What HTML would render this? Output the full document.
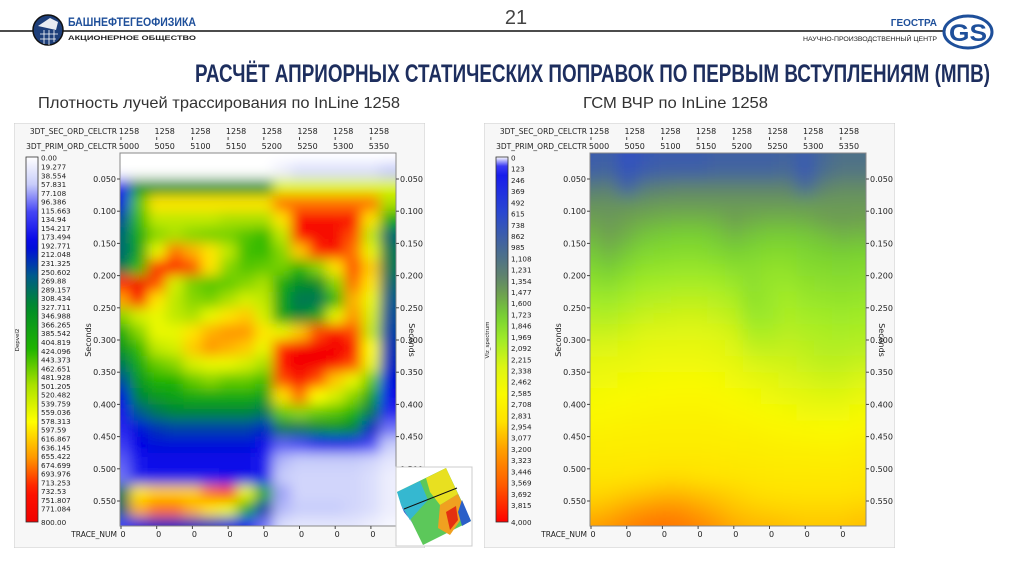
<!DOCTYPE html>
<html><head><meta charset="utf-8">
<style>
html,body{margin:0;padding:0;background:#fff;}
svg{display:block;}
.t{font-family:"DejaVu Sans","Liberation Sans",sans-serif;fill:#222;}
</style></head>
<body>
<svg id="s" xmlns="http://www.w3.org/2000/svg" width="1024" height="574" viewBox="0 0 1024 574">
<defs>
  <filter id="blurL" x="-10%" y="-10%" width="120%" height="120%"><feGaussianBlur stdDeviation="6.5"/></filter>
  <filter id="blurR" x="-10%" y="-10%" width="120%" height="120%"><feGaussianBlur stdDeviation="8"/></filter>
  <clipPath id="clipL"><rect x="120" y="153" width="276" height="373"/></clipPath>
  <clipPath id="clipR"><rect x="590" y="153" width="276" height="373"/></clipPath>
  <clipPath id="panelL"><rect x="14" y="123" width="411" height="425"/></clipPath>
  <clipPath id="panelR"><rect x="484" y="123" width="411" height="425"/></clipPath>
  <linearGradient id="gradL" x1="0" y1="0" x2="0" y2="1"></linearGradient>
  <linearGradient id="gradR" x1="0" y1="0" x2="0" y2="1"></linearGradient>
</defs>

<g>
  <line x1="0" y1="31" x2="948" y2="31" stroke="#111" stroke-width="1.6"/>
  <g>
    <circle cx="48" cy="30" r="15" fill="#1e3f7a" stroke="#111" stroke-width="1.5"/>
    <path d="M38 26 L50 18 L58 22 L56 30 Z" fill="#fff" opacity="0.9"/>
    <path d="M40 34 H58 M40 39 H56 M44 30 V44 M49 30 V45 M54 30 V42" stroke="#fff" stroke-width="0.8"/>
  </g>
  <text x="68" y="26" font-family="Liberation Sans Narrow,Liberation Sans,sans-serif" font-weight="bold" font-size="12" fill="#1e4f9a" textLength="128" lengthAdjust="spacingAndGlyphs">БАШНЕФТЕГЕОФИЗИКА</text>
  <text x="68" y="40" font-family="Liberation Sans,sans-serif" font-weight="bold" font-size="6.5" fill="#222" textLength="128" lengthAdjust="spacingAndGlyphs">АКЦИОНЕРНОЕ ОБЩЕСТВО</text>
  <text x="516" y="24" text-anchor="middle" font-family="Liberation Sans Narrow,Liberation Sans,sans-serif" font-size="20" fill="#444">21</text>
  <text x="937" y="26" text-anchor="end" font-family="Liberation Sans Narrow,Liberation Sans,sans-serif" font-weight="bold" font-size="10" fill="#1e4f9a">ГЕОСТРА</text>
  <text x="937" y="41" text-anchor="end" font-family="Liberation Sans,sans-serif" font-size="6" fill="#222" textLength="134" lengthAdjust="spacingAndGlyphs">НАУЧНО-ПРОИЗВОДСТВЕННЫЙ ЦЕНТР</text>
  <g>
    <ellipse cx="968" cy="32" rx="24" ry="16" fill="#fff" stroke="#1e4f9a" stroke-width="3"/>
    <text x="968" y="41" text-anchor="middle" font-family="Liberation Sans,sans-serif" font-weight="bold" font-size="24" fill="#1e4f9a" textLength="38" lengthAdjust="spacingAndGlyphs">GS</text>
  </g>
  <text x="195" y="82" font-family="Liberation Sans Narrow,Liberation Sans,sans-serif" font-weight="bold" font-size="25" fill="#1d2e5e" textLength="795" lengthAdjust="spacingAndGlyphs">РАСЧЁТ АПРИОРНЫХ СТАТИЧЕСКИХ ПОПРАВОК ПО ПЕРВЫМ ВСТУПЛЕНИЯМ (МПВ)</text>
  <text x="38" y="108" font-family="Liberation Sans Narrow,Liberation Sans,sans-serif" font-size="16" fill="#333" textLength="362" lengthAdjust="spacingAndGlyphs">Плотность лучей трассирования по InLine 1258</text>
  <text x="583" y="108" font-family="Liberation Sans Narrow,Liberation Sans,sans-serif" font-size="16" fill="#333" textLength="185" lengthAdjust="spacingAndGlyphs">ГСМ ВЧР по InLine 1258</text>
</g>

<g id="panelLeft" clip-path="url(#panelL)">
  <rect x="14" y="123" width="411" height="425" fill="#f7f7f7" stroke="#ccc"/>
</g>
<g id="panelRight" clip-path="url(#panelR)">
  <rect x="484" y="123" width="411" height="425" fill="#f7f7f7" stroke="#ccc"/>
</g>

<g>
  <rect x="396" y="467" width="76" height="79" fill="#fff" stroke="#ccc"/>
  <polygon points="397,492 446,468 471,521 423,545" fill="#5cc85a"/>
  <polygon points="397,492 420,481 428,500 410,520 401,505" fill="#35b8d0"/>
  <polygon points="426,478 446,468 458,494 440,505 430,492" fill="#e8e020"/>
  <polygon points="440,505 458,494 466,512 450,535 438,528" fill="#f0a020"/>
  <polygon points="446,512 456,506 458,520 450,530" fill="#e43010"/>
  <polygon points="462,500 471,521 462,526 458,512" fill="#2b5fc8"/>
  <polygon points="401,505 410,520 415,526 404,512" fill="#2b5fc8"/>
  <line x1="404" y1="509" x2="457" y2="488" stroke="#111" stroke-width="1"/>
</g>
</svg>

<script>
const cdps = [5000,5025,5050,5075,5100,5125,5150,5175,5200,5225,5250,5275,5300,5325,5350,5375];
const times = [0.0125,0.0375,0.0625,0.0875,0.1125,0.1375,0.1625,0.1875,0.2125,0.2375,0.2625,0.2875,0.3125,0.3375,0.3625,0.3875,0.4125,0.4375,0.4625,0.4875,0.5125,0.5375,0.5625,0.5875];
const cdpTicks = [5000,5050,5100,5150,5200,5250,5300,5350];
const inlineTickLabels = ["1258","1258","1258","1258","1258","1258","1258","1258"];
const traceTickLabels = ["0","0","0","0","0","0","0","0"];
const timeTicks = [0.05,0.10,0.15,0.20,0.25,0.30,0.35,0.40,0.45,0.50,0.55];
const timeTickLabels = ["0.050","0.100","0.150","0.200","0.250","0.300","0.350","0.400","0.450","0.500","0.550"];
const densityLegendLabels = ["0.00","19.277","38.554","57.831","77.108","96.386","115.663","134.94","154.217","173.494","192.771","212.048","231.325","250.602","269.88","289.157","308.434","327.711","346.988","366.265","385.542","404.819","424.096","443.373","462.651","481.928","501.205","520.482","539.759","559.036","578.313","597.59","616.867","636.145","655.422","674.699","693.976","713.253","732.53","751.807","771.084"];
const densityLegendMax = "800.00";
const velLegendLabels = ["0","123","246","369","492","615","738","862","985","1,108","1,231","1,354","1,477","1,600","1,723","1,846","1,969","2,092","2,215","2,338","2,462","2,585","2,708","2,831","2,954","3,077","3,200","3,323","3,446","3,569","3,692","3,815"];
const velLegendMax = "4,000";

const densityRows = [
[0,0,0,0,0,0,0,0,0,0,0,0,0,0,0,0],
[0,0,0,0,0,0,0,0,0,20,40,40,40,40,40,60],
[150,350,350,350,350,350,350,350,350,550,550,550,550,550,550,550],
[200,450,600,600,600,600,600,600,600,680,680,680,680,680,680,500],
[250,430,520,520,520,520,500,500,500,600,760,760,760,760,600,400],
[280,400,480,500,480,470,470,450,430,520,740,770,770,700,520,280],
[280,380,560,680,640,600,520,440,430,480,620,720,760,680,560,300],
[300,430,720,740,700,600,480,450,460,470,420,480,600,700,620,300],
[720,780,700,540,470,450,460,480,500,400,330,330,480,680,600,280],
[650,760,600,520,480,470,500,540,520,380,300,300,420,640,560,260],
[480,540,560,520,500,560,600,620,540,380,320,380,560,660,540,250],
[400,480,560,560,600,640,660,660,600,560,620,700,760,700,520,240],
[350,430,520,540,620,660,640,620,560,720,780,780,780,760,580,230],
[300,400,460,480,540,560,560,540,500,740,780,780,760,700,560,220],
[250,360,420,420,460,480,460,460,440,700,760,700,620,560,460,200],
[200,320,360,380,400,400,400,400,380,600,680,580,540,480,380,180],
[170,260,300,320,320,320,320,320,300,460,480,460,450,420,300,150],
[150,200,230,240,240,240,240,240,220,300,300,320,340,320,220,100],
[130,190,200,200,200,200,200,200,180,110,120,160,180,160,120,60],
[110,170,180,180,180,180,180,180,160,70,60,60,60,60,50,30],
[100,160,170,170,170,170,180,180,160,60,50,50,50,50,40,20],
[300,600,620,620,620,680,700,560,400,80,50,50,50,50,40,20],
[280,640,680,680,640,600,560,400,240,70,60,60,60,50,40,20],
[120,200,220,220,220,220,200,160,100,40,30,30,30,30,20,10]
];

const velRows = [
[0.85,0.9,0.7,0.8,0.85,0.85,0.85,0.9,0.9,0.9,0.9,0.95,0.85,1.0,1.1,1.1],
[0.9,0.95,0.75,0.85,0.9,0.9,0.9,0.95,0.95,0.95,0.95,1.0,0.8,1.05,1.15,1.15],
[1.2,1.25,0.9,1.2,1.25,1.3,1.3,1.3,1.3,1.3,1.3,1.3,1.0,1.3,1.35,1.35],
[1.4,1.4,1.4,1.42,1.45,1.45,1.45,1.45,1.45,1.45,1.45,1.45,1.45,1.45,1.45,1.45],
[1.5,1.45,1.5,1.55,1.58,1.6,1.6,1.58,1.5,1.55,1.58,1.58,1.56,1.5,1.48,1.5],
[1.6,1.5,1.58,1.68,1.72,1.74,1.74,1.7,1.62,1.68,1.72,1.72,1.7,1.65,1.6,1.62],
[1.7,1.6,1.7,1.8,1.82,1.84,1.84,1.8,1.74,1.78,1.82,1.82,1.78,1.74,1.72,1.74],
[1.8,1.72,1.82,1.9,1.92,1.94,1.94,1.92,1.86,1.86,1.9,1.9,1.84,1.82,1.8,1.82],
[1.9,1.86,1.94,2.0,2.02,2.04,2.04,2.02,1.96,1.88,1.94,1.96,1.9,1.88,1.86,1.88],
[2.0,1.98,2.04,2.1,2.12,2.14,2.14,2.12,2.06,1.9,1.96,2.02,1.96,1.94,1.92,1.94],
[2.1,2.08,2.14,2.2,2.22,2.24,2.24,2.2,2.14,1.96,1.98,2.06,2.02,2.0,1.98,2.0],
[2.2,2.2,2.24,2.3,2.32,2.33,2.33,2.3,2.24,2.06,2.06,2.12,2.08,2.06,2.04,2.06],
[2.3,2.32,2.34,2.4,2.42,2.42,2.42,2.38,2.32,2.18,2.16,2.18,2.14,2.1,2.1,2.12],
[2.4,2.42,2.44,2.48,2.5,2.5,2.5,2.46,2.4,2.3,2.26,2.24,2.2,2.16,2.16,2.2],
[2.48,2.5,2.52,2.55,2.57,2.58,2.58,2.55,2.5,2.42,2.38,2.32,2.28,2.24,2.24,2.3],
[2.55,2.58,2.6,2.62,2.63,2.64,2.64,2.62,2.58,2.52,2.48,2.42,2.38,2.34,2.34,2.42],
[2.62,2.64,2.66,2.67,2.68,2.68,2.68,2.67,2.65,2.62,2.58,2.54,2.5,2.48,2.48,2.54],
[2.68,2.7,2.71,2.72,2.72,2.72,2.72,2.72,2.7,2.68,2.66,2.64,2.62,2.6,2.6,2.64],
[2.74,2.75,2.76,2.76,2.77,2.77,2.77,2.76,2.75,2.74,2.72,2.71,2.7,2.69,2.69,2.72],
[2.8,2.8,2.81,2.82,2.83,2.83,2.83,2.82,2.8,2.79,2.78,2.77,2.77,2.76,2.76,2.78],
[2.86,2.86,2.88,2.9,2.92,2.92,2.9,2.88,2.86,2.84,2.83,2.82,2.82,2.82,2.82,2.84],
[2.94,2.96,3.0,3.04,3.08,3.08,3.04,3.0,2.96,2.92,2.9,2.89,2.88,2.88,2.88,2.9],
[3.05,3.1,3.18,3.25,3.3,3.28,3.2,3.12,3.05,3.0,2.98,2.96,2.95,2.95,2.95,2.98],
[3.2,3.25,3.35,3.42,3.45,3.42,3.35,3.25,3.15,3.1,3.08,3.05,3.02,3.02,3.02,3.05]
];

const NS = "http://www.w3.org/2000/svg";
function mk(tag, attrs, parent){ const e=document.createElementNS(NS,tag); for(const k in attrs) e.setAttribute(k,attrs[k]); if(parent) parent.appendChild(e); return e; }

const densityStops = [[0,[255,255,255]],[60,[200,205,250]],[120,[70,70,245]],[190,[0,0,230]],[260,[0,90,140]],[330,[0,140,40]],[420,[30,180,0]],[500,[170,225,0]],[580,[255,255,0]],[660,[255,150,0]],[730,[255,20,0]],[800,[240,0,0]]];
const velStops = [[0,[255,255,255]],[0.12,[20,20,240]],[0.6,[40,70,210]],[1.0,[70,105,150]],[1.3,[95,130,110]],[1.5,[110,160,80]],[1.75,[120,210,50]],[2.0,[160,235,40]],[2.3,[220,245,20]],[2.6,[250,250,0]],[2.9,[255,225,0]],[3.2,[255,160,0]],[3.6,[255,90,0]],[4.0,[255,0,0]]];
function cmap(stops,v){
  if(v <= stops[0][0]) return "rgb("+stops[0][1].join(",")+")";
  for(let i=1; i < stops.length; i++){ if(v <= stops[i][0]){ const a=stops[i-1],b=stops[i]; const f=(v-a[0])/(b[0]-a[0]); const c=a[1].map((x,j)=>Math.round(x+(b[1][j]-x)*f)); return "rgb("+c.join(",")+")"; } }
  return "rgb("+stops[stops.length-1][1].join(",")+")";
}

function buildPanel(dx, panelId, rows, stops, vmax, gradId, clipId, blurId, legendLabels, legendMax, legendTitle, prefix){
  const P = document.getElementById(panelId);
  const xS = c => 121 + dx + (c-5000)*35.7/50;
  const yS = t => 179 + (t-0.05)*644;
  const cw = 25*35.7/50, ch = 0.025*644;

  const bg = mk('rect',{x:120+dx,y:153,width:276,height:373,fill:'#fff'},P);
  
  

  const clipG = mk('g',{'clip-path':'url(#'+clipId+')'},P);
  
  
  const g = mk('g',{filter:'url(#'+blurId+')'},clipG);
  rows.forEach((row,ri)=>{
    row.forEach((v,ci)=>{
      let x = xS(cdps[ci]) - cw/2, y = yS(times[ri]) - ch/2, w = cw+0.6, h = ch+0.6;
      if(ci===0){ x-=16; w+=16; }
      if(ci===cdps.length-1){ w+=16; }
      if(ri===0){ y-=16; h+=16; }
      if(ri===times.length-1){ h+=16; }
      const r = mk('rect',{x:x.toFixed(2),y:y.toFixed(2),width:w.toFixed(2),height:h.toFixed(2),fill:cmap(stops,v)},g);
      
      
    });
  });
  const fr = mk('rect',{x:120+dx,y:153,width:276,height:373,fill:'none',stroke:'#888','stroke-width':1},P);
  
  

  const h1 = mk('text',{x:117+dx,y:134,'text-anchor':'end','font-size':7.5,class:'t'},P);
  h1.textContent='3DT_SEC_ORD_CELCTR';
  
  
  const h2 = mk('text',{x:117+dx,y:149,'text-anchor':'end','font-size':7.5,class:'t'},P);
  h2.textContent='3DT_PRIM_ORD_CELCTR';
  
  
  const h3 = mk('text',{x:117+dx,y:537,'text-anchor':'end','font-size':7.5,class:'t'},P);
  h3.textContent='TRACE_NUM';
  
  

  cdpTicks.forEach((c,i)=>{
    const x = xS(c);
    const a = mk('text',{x:x+8,y:134,'text-anchor':'middle','font-size':8,class:'t'},P);
    a.textContent = inlineTickLabels[i];
    
    
    const b = mk('text',{x:x+8,y:149,'text-anchor':'middle','font-size':8,class:'t'},P);
    b.textContent = String(c);
    
    
    const tk = mk('line',{x1:x,y1:137,x2:x,y2:140,stroke:'#444'},P);
    
    
    const tk2 = mk('line',{x1:x,y1:526,x2:x,y2:529,stroke:'#444'},P);
    
    
    const tr = mk('text',{x:x+2,y:537,'text-anchor':'middle','font-size':8,class:'t'},P);
    tr.textContent = traceTickLabels[i];
    
    
  });

  timeTicks.forEach((t,i)=>{
    const y = yS(t);
    const l = mk('text',{x:116+dx,y:y+3,'text-anchor':'end','font-size':8,class:'t'},P);
    l.textContent = timeTickLabels[i];
    
    
    const tk = mk('line',{x1:117+dx,y1:y,x2:120+dx,y2:y,stroke:'#444'},P);
    
    
    const tk2 = mk('line',{x1:396+dx,y1:y,x2:399+dx,y2:y,stroke:'#444'},P);
    
    
    const r = mk('text',{x:400+dx,y:y+3,'font-size':8,class:'t'},P);
    r.textContent = timeTickLabels[i];
    
    
  });

  const s1 = mk('text',{x:0,y:0,'font-size':8,class:'t','text-anchor':'middle',transform:'translate('+(91+dx)+',340) rotate(-90)'},P);
  s1.textContent='Seconds';
  
  
  const s2 = mk('text',{x:0,y:0,'font-size':8,class:'t','text-anchor':'middle',transform:'translate('+(409+dx)+',340) rotate(90)'},P);
  s2.textContent='Seconds';
  
  

  const grad = document.getElementById(gradId);
  for(let i=0; i <= 40; i++){
    const v = vmax*i/40;
    mk('stop',{offset:(i/40).toFixed(3),'stop-color':cmap(stops,v)},grad);
  }
  const cb = mk('rect',{x:26+dx,y:157,width:12,height:365,fill:'url(#'+gradId+')',stroke:'#333','stroke-width':0.8},P);
  
  
  const lastY = (prefix==='density') ? 508.7 : 505;
  const firstY = 157.7;
  const n = legendLabels.length;
  legendLabels.forEach((lab,i)=>{
    let y;
    if(prefix==='density'){ y = firstY + (lastY-firstY)*i/(n-1); }
    else { y = i===0 ? 157.7 : 168.7 + (lastY-168.7)*(i-1)/(n-2); }
    const tx = mk('text',{x:41+dx,y:y+3,'font-size':7.2,class:'t'},P);
    tx.textContent = lab;
    
    
  });
  const mx = mk('text',{x:41+dx,y:525,'font-size':7.2,class:'t'},P);
  mx.textContent = legendMax;
  
  
  const lt = mk('text',{x:0,y:0,'font-size':5.5,class:'t','text-anchor':'middle',transform:'translate('+(19+dx)+',340) rotate(-90)'},P);
  lt.textContent = legendTitle;
  
  
}

buildPanel(0,'panelLeft',densityRows,densityStops,800,'gradL','clipL','blurL',densityLegendLabels,densityLegendMax,'Depvel2','density');
buildPanel(470,'panelRight',velRows,velStops,4.0,'gradR','clipR','blurR',velLegendLabels,velLegendMax,'Vlz_spectrum','velocity');
</script>
</body></html>
